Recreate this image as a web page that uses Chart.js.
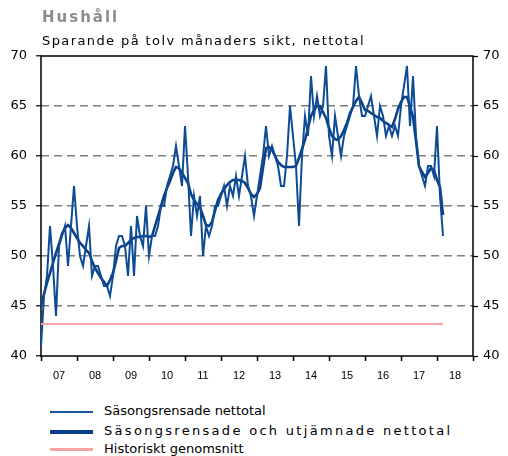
<!DOCTYPE html>
<html>
<head>
<meta charset="utf-8">
<script src="https://cdn.jsdelivr.net/npm/chart.js@4"></script>
<style>
  body { margin: 0; background: #fff; font-family: "DejaVu Sans", sans-serif; }
  #wrap { position: relative; width: 508px; height: 456px; overflow: hidden; }
  #box { position: absolute; left: 0; top: 0; width: 508px; height: 400px; }
  .titel { position: absolute; left: 42px; top: 8px; font-weight: bold; font-size: 15px; color: #8c8c8c; letter-spacing: 2px; }
  .undertitel { position: absolute; left: 42px; top: 33px; font-size: 13px; color: #000; letter-spacing: 1.4px; }
  .leg { position: absolute; left: 50px; font-size: 13px; color: #000; white-space: nowrap; }
  .leg span.linje { display: inline-block; width: 43px; vertical-align: middle; margin-right: 11px; }
</style>
</head>
<body>
<div id="wrap">
  <div id="box"><canvas id="graf"></canvas></div>
  <div class="titel">Hushåll</div>
  <div class="undertitel">Sparande på tolv månaders sikt, nettotal</div>
  <div class="leg" style="top:403px"><span class="linje" style="border-top:2px solid #1a55a0"></span>Säsongsrensade nettotal</div>
  <div class="leg" style="top:423px;letter-spacing:2.3px"><span class="linje" style="border-top:4px solid #0a4089"></span>Säsongsrensade och utjämnade nettotal</div>
  <div class="leg" style="top:441px"><span class="linje" style="border-top:3px solid #f7a3a3"></span>Historiskt genomsnitt</div>
</div>
<script>
// Hushåll - sparande på tolv månaders sikt (jan 2007 - mar 2018, månadsdata)

var ar = ['07', '08', '09', '10', '11', '12', '13', '14', '15', '16', '17', '18'];

var sasongsrensade = [
    41, 46, 48, 53, 49, 44, 51, 52, 53, 49, 53, 57,
    53, 50, 49, 51, 53, 48, 49, 49, 48, 47, 47, 46,
    48, 51, 52, 52, 51, 48, 53, 48, 54, 52, 51, 55,
    50, 52, 52, 53, 55, 55, 57, 58, 59, 61, 59, 57,
    63, 58, 52, 56, 54, 56, 50, 53, 52, 53, 55, 55,
    56, 57, 55, 57, 56, 58, 56, 58, 60, 57, 56, 54,
    56, 58, 60, 63, 60, 61, 60, 59, 57, 57, 60, 65,
    62, 59, 53, 60, 64, 62, 68, 64, 66, 64, 65, 69,
    62, 60, 64, 62, 60, 62, 63, 64, 65, 69, 66, 64,
    64, 65, 66, 64, 62, 65, 64, 62, 63, 62, 63, 62,
    65, 67, 69, 63, 68, 62, 59, 58, 57, 59, 59, 58,
    63, 56, 52
];

var utjamnade = [
    45, 46.2, 47.3, 48.3, 49.3, 50.3, 51.2, 52.2, 52.8, 53.1, 52.8, 52.3,
    51.8, 51.3, 51, 50.6, 50.3, 49.5, 48.8, 48.3, 47.8, 47.4, 47, 47.6,
    48.3, 49.5, 50.8, 51, 51, 51.3, 51.6, 51.8, 51.9, 51.9, 52, 52,
    51.9, 52, 53, 54, 55, 56, 56.8, 57.5, 58.3, 58.9, 58.8, 58.3,
    57.8, 57.3, 56.2, 55.6, 55.2, 54.9, 54, 53.1, 53, 53.4, 54.5, 55.6,
    56.2, 56.7, 57.1, 57.4, 57.6, 57.6, 57.6, 57.5, 57.3, 56.8, 56.2, 55.9,
    56.2, 56.8, 58.8, 60.8, 60.9, 60.6, 60, 59.4, 59.1, 58.9, 58.9, 58.9,
    58.9, 59, 59.8, 60.7, 61.6, 62.8, 64, 64.6, 65, 65, 64.4, 63.8,
    62.8, 62, 61.7, 61.6, 62, 62.6, 63.3, 64.3, 64.9, 65.5, 65.9, 65.3,
    64.6, 64.5, 64.3, 64.1, 63.9, 63.8, 63.5, 63.3, 63.1, 62.9, 63.7, 64.7,
    65.4, 65.9, 65.9, 65, 63.9, 61.5, 59, 58.4, 57.9, 58.3, 58.8, 58.6,
    57.6, 56.9, 54.1
];

var historisktSnitt = 43.2;

var yTicks = [40, 45, 50, 55, 60, 65, 70];

// månadsetiketter jan 2007 .. jan 2019
var manader = [];
for (var a = 0; a < ar.length; a++) {
    for (var m = 1; m <= 12; m++) {
        manader.push(ar[a] + '-' + (m < 10 ? '0' + m : m));
    }
}
manader.push('19-01');

var snittLinje = sasongsrensade.map(function () { return historisktSnitt; });

var ram = {
    id: 'ram',
    beforeDatasetsDraw: function (chart) {
        var c = chart.ctx, a = chart.chartArea;
        c.save();
        c.strokeStyle = '#000';
        c.lineWidth = 1.5;
        c.setLineDash([]);
        c.strokeRect(a.left, a.top, a.right - a.left, a.bottom - a.top);
        c.restore();
    }
};

var yTickOpts = {
    stepSize: 5,
    color: '#000',
    font: { family: "'DejaVu Sans'", size: 13 }
};

new Chart(document.getElementById('graf'), {
    type: 'line',
    data: {
        labels: manader,
        datasets: [
            {
                label: 'Historiskt genomsnitt',
                data: snittLinje,
                borderColor: '#f7a3a3',
                borderWidth: 2,
                pointRadius: 0
            },
            {
                label: 'Säsongsrensade nettotal',
                data: sasongsrensade,
                borderColor: '#0d4b94',
                borderWidth: 2,
                pointRadius: 0
            },
            {
                label: 'Säsongsrensade och utjämnade nettotal',
                data: utjamnade,
                borderColor: '#0a4089',
                borderWidth: 2.6,
                pointRadius: 0
            }
        ]
    },
    options: {
        responsive: true,
        maintainAspectRatio: false,
        animation: false,
        layout: { padding: { top: 56, bottom: 0, left: 0, right: 0 } },
        plugins: {
            legend: { display: false },
            tooltip: { enabled: false }
        },
        scales: {
            x: {
                offset: false,
                afterFit: function (s) { s.height = 44; },
                border: { display: false },
                grid: {
                    drawOnChartArea: false,
                    tickLength: 5,
                    tickWidth: 1.5,
                    tickColor: function (ctx) { return ctx.index % 12 === 0 ? '#000' : 'rgba(0,0,0,0)'; }
                },
                ticks: {
                    autoSkip: false,
                    maxRotation: 0,
                    padding: 8,
                    color: '#000',
                    font: { family: "'Liberation Sans'", size: 11 },
                    callback: function (v, i) { return i % 12 === 6 ? ar[Math.floor(i / 12)] : ''; }
                }
            },
            y: {
                position: 'left',
                min: 40,
                max: 70,
                afterFit: function (s) { s.width = 41; },
                afterBuildTicks: function (s) { s.ticks = yTicks.map(function (v) { return { value: v }; }); },
                border: { display: false, dash: [8, 5] },
                grid: {
                    color: function (ctx) { return (ctx.tick && (ctx.tick.value === 40 || ctx.tick.value === 70)) ? 'rgba(0,0,0,0)' : '#7f7f7f'; },
                    lineWidth: 1.6,
                    tickColor: '#000',
                    tickLength: 5,
                    tickWidth: 1.2,
                    tickBorderDash: []
                },
                ticks: Object.assign({ padding: 9 }, yTickOpts)
            },
            y2: {
                position: 'right',
                min: 40,
                max: 70,
                afterFit: function (s) { s.width = 35; },
                afterBuildTicks: function (s) { s.ticks = yTicks.map(function (v) { return { value: v }; }); },
                border: { display: false },
                grid: {
                    drawOnChartArea: false,
                    tickColor: '#000',
                    tickLength: 5,
                    tickWidth: 1.2
                },
                ticks: Object.assign({ padding: 5 }, yTickOpts)
            }
        }
    },
    plugins: [ram]
});
</script>
</body>
</html>
